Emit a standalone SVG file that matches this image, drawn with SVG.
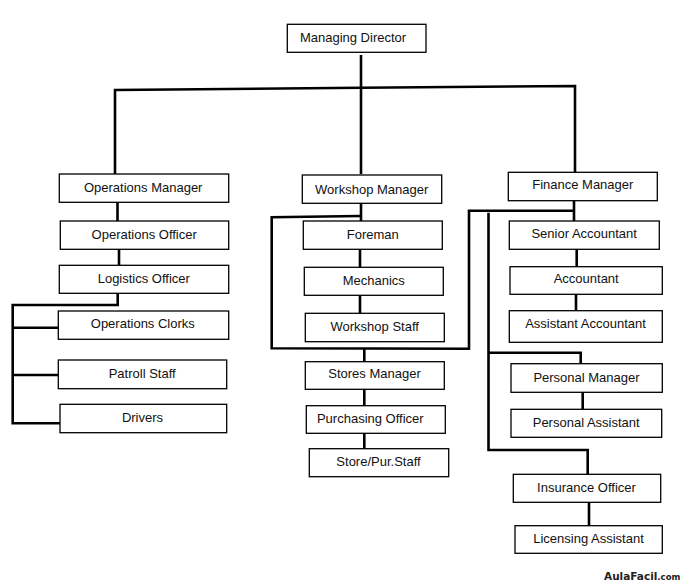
<svg xmlns="http://www.w3.org/2000/svg" width="684" height="581" viewBox="0 0 684 581">
<style>
rect.box{fill:#fff;stroke:#000;stroke-width:1.3}
text{font-family:"Liberation Sans",Arial,sans-serif;font-size:13px;fill:#111;text-anchor:middle}
#connectors path{fill:none;stroke:#000;stroke-width:2.6;stroke-linejoin:miter}
.wm{font-family:"DejaVu Sans","Liberation Sans",sans-serif;font-weight:bold;fill:#222;text-anchor:start}
</style>
<rect width="684" height="581" fill="#fff"/>
<g id="connectors">
<path d="M361 55 V174"/>
<path d="M115 174 V90 L361 87.7 L575 86 V172"/>
<path d="M117.5 202 V221 M119 249 V265"/>
<path d="M117.7 293 V305 H12.7 V423.3 H61.5 M12.7 327.7 H58.5 M12.7 375 H58.5"/>
<path d="M361 203 V221 M360 249 V267.5 M360 295 V313.5"/>
<path d="M360 216 L271.7 217.2 V348.3 L469 348.8 V210.7 H574 V221 M574 200.7 V210.7"/>
<path d="M364.3 348.5 V362 M364.3 389 V406 M364.3 433 V449"/>
<path d="M576.7 249 V267 M576 294 V311"/>
<path d="M488.5 212.7 V450 H587.7 V474.5 M489 352.7 H580.7 V364"/>
<path d="M582.7 392 V409.5 M589 502 V526"/>
</g>
<g id="managing-director"><rect class="box" x="287.3" y="24.3" width="138.7" height="28"/><text x="353" y="42">Managing Director</text></g>
<g id="operations-manager"><rect class="box" x="59.3" y="174" width="169.4" height="28.3"/><text x="143.2" y="192.3">Operations Manager</text></g>
<g id="operations-officer"><rect class="box" x="60.3" y="221" width="168.4" height="28.3"/><text x="144.2" y="239">Operations Officer</text></g>
<g id="logistics-officer"><rect class="box" x="59.3" y="265.3" width="169.4" height="28"/><text x="143.8" y="282.5">Logistics Officer</text></g>
<g id="operations-clorks"><rect class="box" x="58.3" y="311" width="170.4" height="28.3"/><text x="142.8" y="328.3">Operations Clorks</text></g>
<g id="patroll-staff"><rect class="box" x="58.3" y="360" width="168.4" height="28.7"/><text x="142.2" y="378.3">Patroll Staff</text></g>
<g id="drivers"><rect class="box" x="60" y="404.3" width="166.7" height="28.4"/><text x="142.5" y="421.7">Drivers</text></g>
<g id="workshop-manager"><rect class="box" x="302.3" y="175" width="139.4" height="28.3"/><text x="371.7" y="194.3">Workshop Manager</text></g>
<g id="foreman"><rect class="box" x="303.3" y="221" width="139" height="28.3"/><text x="372.8" y="239">Foreman</text></g>
<g id="mechanics"><rect class="box" x="304.3" y="267.3" width="139" height="28"/><text x="373.8" y="285">Mechanics</text></g>
<g id="workshop-staff"><rect class="box" x="305.3" y="313.3" width="139" height="28.4"/><text x="374.7" y="330.7">Workshop Staff</text></g>
<g id="stores-manager"><rect class="box" x="305.3" y="361.7" width="139" height="27.6"/><text x="374.5" y="378.3">Stores Manager</text></g>
<g id="purchasing-officer"><rect class="box" x="306.3" y="405.7" width="139" height="27.6"/><text x="370.3" y="422.7">Purchasing Officer</text></g>
<g id="store-pur-staff"><rect class="box" x="309.3" y="448.7" width="139.4" height="28"/><text x="378.5" y="466">Store/Pur.Staff</text></g>
<g id="finance-manager"><rect class="box" x="508.3" y="172.3" width="149" height="28.4"/><text x="582.8" y="189.3">Finance Manager</text></g>
<g id="senior-accountant"><rect class="box" x="509.3" y="221" width="150" height="28.3"/><text x="584.2" y="238.3">Senior Accountant</text></g>
<g id="accountant"><rect class="box" x="510" y="266.7" width="152.3" height="27.6"/><text x="586.2" y="283.3">Accountant</text></g>
<g id="assistant-accountant"><rect class="box" x="509.3" y="310.7" width="153" height="31.6"/><text x="585.5" y="327.7">Assistant Accountant</text></g>
<g id="personal-manager"><rect class="box" x="511" y="363.7" width="151.3" height="28.6"/><text x="586.5" y="381.7">Personal Manager</text></g>
<g id="personal-assistant"><rect class="box" x="511" y="409.3" width="150.7" height="28"/><text x="586.2" y="426.7">Personal Assistant</text></g>
<g id="insurance-officer"><rect class="box" x="513.3" y="474.3" width="147.4" height="28"/><text x="586.5" y="491.7">Insurance Officer</text></g>
<g id="licensing-assistant"><rect class="box" x="515" y="525.7" width="147.3" height="27.6"/><text x="588.5" y="543.3">Licensing Assistant</text></g>
<text class="wm" x="604" y="579.5"><tspan font-size="10.5">AulaFacil</tspan><tspan font-size="8.5">.com</tspan></text>
</svg>
